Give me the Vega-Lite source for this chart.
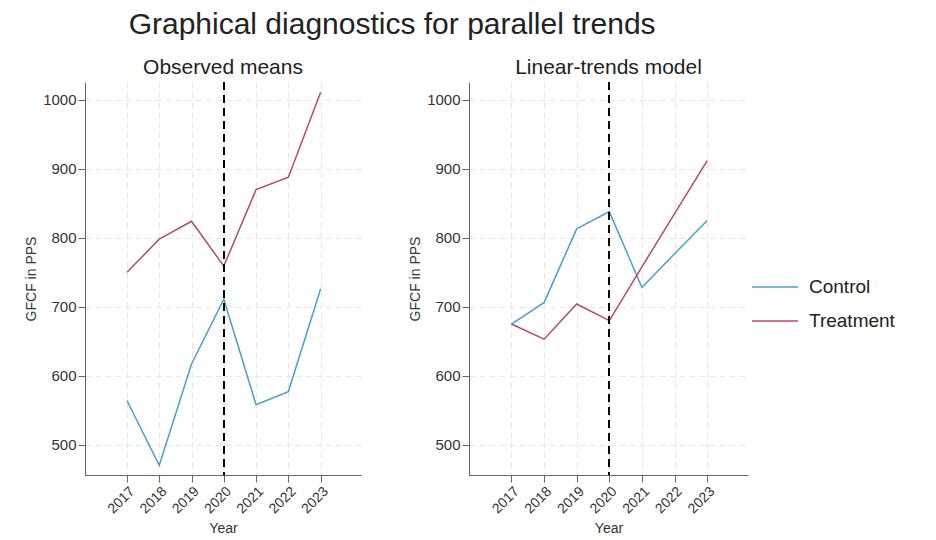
{
  "$schema": "https://vega.github.io/schema/vega-lite/v6.json",
  "background": "white",
  "padding": {"left": 24, "top": 10, "right": 5, "bottom": 5},
  "title": {"text": "Graphical diagnostics for parallel trends", "fontSize": 30, "font": "Liberation Sans", "fontWeight": "normal", "color": "#222", "anchor": "start", "dx": 104, "offset": 17},
  "data": {"values": [
    {"panel": "obs", "year": 2017, "group": "Control", "value": 564},
    {"panel": "obs", "year": 2018, "group": "Control", "value": 470},
    {"panel": "obs", "year": 2019, "group": "Control", "value": 617},
    {"panel": "obs", "year": 2020, "group": "Control", "value": 711},
    {"panel": "obs", "year": 2021, "group": "Control", "value": 558},
    {"panel": "obs", "year": 2022, "group": "Control", "value": 577},
    {"panel": "obs", "year": 2023, "group": "Control", "value": 726},
    {"panel": "obs", "year": 2017, "group": "Treatment", "value": 750},
    {"panel": "obs", "year": 2018, "group": "Treatment", "value": 798},
    {"panel": "obs", "year": 2019, "group": "Treatment", "value": 824},
    {"panel": "obs", "year": 2020, "group": "Treatment", "value": 759},
    {"panel": "obs", "year": 2021, "group": "Treatment", "value": 870},
    {"panel": "obs", "year": 2022, "group": "Treatment", "value": 888},
    {"panel": "obs", "year": 2023, "group": "Treatment", "value": 1011},
    {"panel": "lin", "year": 2017, "group": "Control", "value": 675},
    {"panel": "lin", "year": 2018, "group": "Control", "value": 706},
    {"panel": "lin", "year": 2019, "group": "Control", "value": 813},
    {"panel": "lin", "year": 2020, "group": "Control", "value": 838},
    {"panel": "lin", "year": 2021, "group": "Control", "value": 728},
    {"panel": "lin", "year": 2022, "group": "Control", "value": 777},
    {"panel": "lin", "year": 2023, "group": "Control", "value": 825},
    {"panel": "lin", "year": 2017, "group": "Treatment", "value": 675},
    {"panel": "lin", "year": 2018, "group": "Treatment", "value": 653},
    {"panel": "lin", "year": 2019, "group": "Treatment", "value": 704},
    {"panel": "lin", "year": 2020, "group": "Treatment", "value": 680},
    {"panel": "lin", "year": 2021, "group": "Treatment", "value": 758},
    {"panel": "lin", "year": 2022, "group": "Treatment", "value": 835},
    {"panel": "lin", "year": 2023, "group": "Treatment", "value": 912}
  ]},
  "config": {
    "font": "Liberation Sans",
    "view": {"stroke": null},
    "axis": {
      "labelFont": "Liberation Sans", "labelFontSize": 15, "labelColor": "#333",
      "titleFont": "Liberation Sans", "titleFontSize": 14, "titleFontWeight": "normal", "titleColor": "#333",
      "domainColor": "#666", "tickColor": "#666", "tickSize": 7,
      "gridColor": "#e6e6e6", "gridDash": [6, 4], "gridWidth": 1
    },
    "axisX": {"labelFontSize": 14, "labelOverlap": false, "labelBound": false},
    "title": {"font": "Liberation Sans", "fontSize": 21, "fontWeight": "normal", "color": "#222"},
    "legend": {"labelFont": "Liberation Sans", "labelFontSize": 19, "labelColor": "#222"}
  },
  "spacing": 47,
  "resolve": {"scale": {"color": "shared"}},
  "hconcat": [
    {
      "width": 276, "height": 393,
      "title": {"text": "Observed means", "offset": 3},
      "transform": [{"filter": "datum.panel === 'obs'"}],
      "layer": [
        {
          "mark": {"type": "line", "strokeWidth": 1.5},
          "encoding": {
            "x": {"field": "year", "type": "quantitative", "scale": {"domain": [2015.7, 2024.25], "nice": false, "zero": false},
                  "axis": {"values": [2017, 2018, 2019, 2020, 2021, 2022, 2023], "format": "d", "labelAngle": -45, "title": "Year", "titlePadding": 6}},
            "y": {"field": "value", "type": "quantitative", "scale": {"domain": [456, 1026], "nice": false, "zero": false},
                  "axis": {"values": [500, 600, 700, 800, 900, 1000], "format": "d", "title": "GFCF in PPS", "titlePadding": 4}},
            "color": {"field": "group", "type": "nominal", "scale": {"domain": ["Control", "Treatment"], "range": ["#4a9fc9", "#b04a70"]},
                      "legend": {"title": null, "orient": "none", "legendX": 666, "legendY": 181, "symbolType": "stroke", "symbolSize": 2100, "symbolStrokeWidth": 1.6, "rowPadding": -23, "labelOffset": 10}}
          }
        },
        {
          "mark": {"type": "rule", "color": "black", "strokeDash": [8, 5], "strokeWidth": 1.3},
          "encoding": {"x": {"datum": 2020}}
        }
      ]
    },
    {
      "width": 279, "height": 393,
      "title": {"text": "Linear-trends model", "offset": 3},
      "transform": [{"filter": "datum.panel === 'lin'"}],
      "layer": [
        {
          "mark": {"type": "line", "strokeWidth": 1.5},
          "encoding": {
            "x": {"field": "year", "type": "quantitative", "scale": {"domain": [2015.7, 2024.25], "nice": false, "zero": false},
                  "axis": {"values": [2017, 2018, 2019, 2020, 2021, 2022, 2023], "format": "d", "labelAngle": -45, "title": "Year", "titlePadding": 6}},
            "y": {"field": "value", "type": "quantitative", "scale": {"domain": [456, 1026], "nice": false, "zero": false},
                  "axis": {"values": [500, 600, 700, 800, 900, 1000], "format": "d", "title": "GFCF in PPS", "titlePadding": 4}},
            "color": {"field": "group", "type": "nominal", "scale": {"domain": ["Control", "Treatment"], "range": ["#4a9fc9", "#b04a70"]},
                      "legend": {"title": null, "orient": "none", "legendX": 666, "legendY": 181, "symbolType": "stroke", "symbolSize": 2100, "symbolStrokeWidth": 1.6, "rowPadding": -23, "labelOffset": 10}}
          }
        },
        {
          "mark": {"type": "rule", "color": "black", "strokeDash": [8, 5], "strokeWidth": 1.3},
          "encoding": {"x": {"datum": 2020}}
        }
      ]
    }
  ]
}
